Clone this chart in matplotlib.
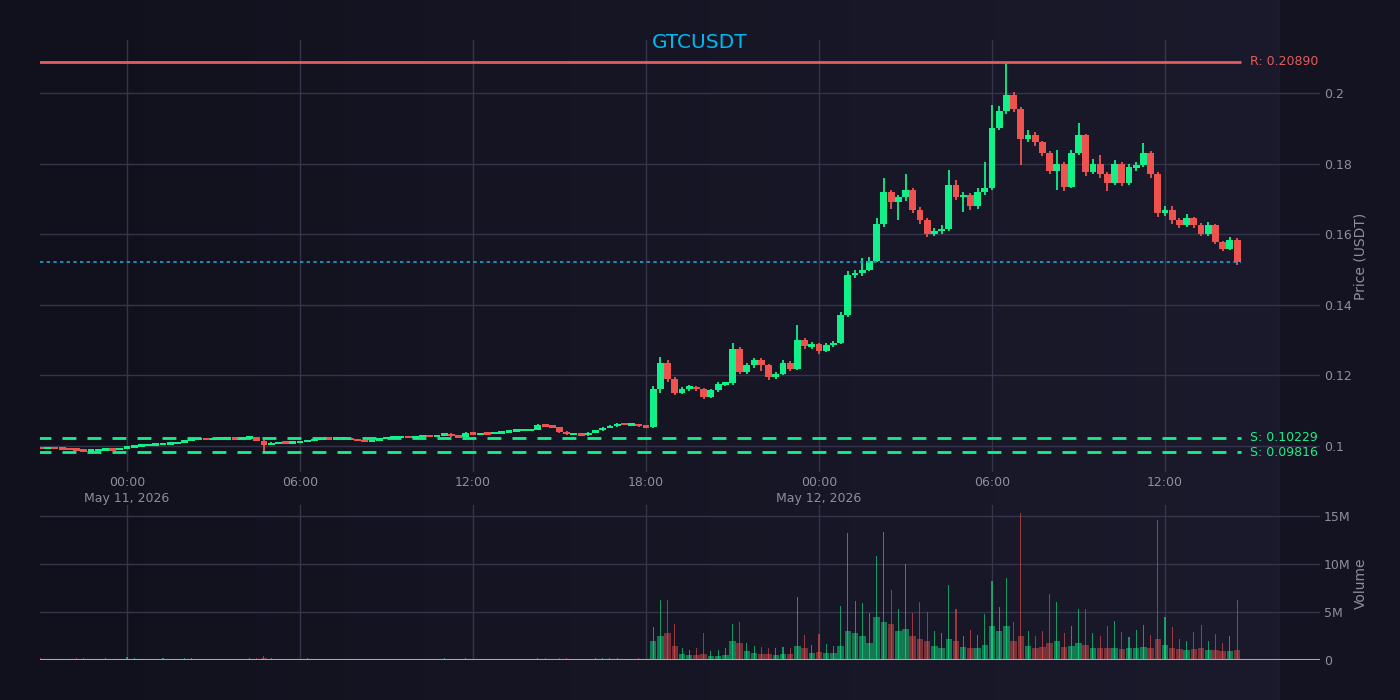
import numpy as np
import matplotlib
matplotlib.use('Agg')
from matplotlib import pyplot as plt
import matplotlib.dates as mdates
from matplotlib.colors import LinearSegmentedColormap
from datetime import datetime, timedelta

# 15-minute candles, first one at 21:00 May 10 2026
start = datetime(2026, 5, 10, 21, 0)
step_min = 15

closes = [
    0.0993, 0.0994, 0.0993, 0.0992, 0.0991, 0.0988, 0.0987, 0.0988, 0.0990, 0.0991,
    0.0990, 0.0992, 0.0998, 0.1000, 0.1002, 0.1004, 0.1005, 0.1007, 0.1008, 0.1009,
    0.1015, 0.1019, 0.1020, 0.1019, 0.1021, 0.1020, 0.1022, 0.1021, 0.1022, 0.1025,
    0.1015, 0.1004, 0.1008, 0.1010, 0.1009, 0.1011, 0.1012, 0.1016, 0.1019, 0.1021,
    0.1020, 0.1021, 0.1020, 0.1019, 0.1015, 0.1013, 0.1016, 0.1021, 0.1023, 0.1024,
    0.1026, 0.1025, 0.1027, 0.1028, 0.1027, 0.1030, 0.1035, 0.1028, 0.1026, 0.1037,
    0.1033, 0.1036, 0.1035, 0.1037, 0.1038, 0.1043, 0.1044, 0.1045, 0.1046, 0.1060,
    0.1057, 0.1054, 0.1040, 0.1033, 0.1034, 0.1031, 0.1038, 0.1044, 0.1052, 0.1056,
    0.1063, 0.1060, 0.1062, 0.1056, 0.1053, 0.1160, 0.1235, 0.1190, 0.1150, 0.1162,
    0.1168, 0.1160, 0.1140, 0.1158, 0.1175, 0.1178, 0.1275, 0.1210, 0.1230, 0.1245,
    0.1230, 0.1195, 0.1205, 0.1235, 0.1218, 0.1300, 0.1282, 0.1288, 0.1268, 0.1285,
    0.1292, 0.1370, 0.1485, 0.1490, 0.1500, 0.1525, 0.1630, 0.1720, 0.1690, 0.1705,
    0.1725, 0.1670, 0.1640, 0.1600, 0.1610, 0.1615, 0.1740, 0.1705, 0.1712, 0.1680,
    0.1720, 0.1730, 0.1900, 0.1950, 0.1995, 0.1955, 0.1870, 0.1882, 0.1860, 0.1830,
    0.1780, 0.1800, 0.1735, 0.1830, 0.1880, 0.1775, 0.1800, 0.1770, 0.1745, 0.1800,
    0.1745, 0.1790, 0.1795, 0.1830, 0.1770, 0.1660, 0.1668, 0.1640, 0.1625, 0.1645,
    0.1625, 0.1600, 0.1625, 0.1578, 0.1558, 0.1585, 0.1521,
]
highs = [
    0.0996, 0.0996, 0.0995, 0.0995, 0.0994, 0.0992, 0.0990, 0.0990, 0.0992, 0.0993,
    0.0993, 0.0994, 0.1000, 0.1002, 0.1004, 0.1006, 0.1007, 0.1009, 0.1010, 0.1011,
    0.1017, 0.1021, 0.1022, 0.1022, 0.1023, 0.1023, 0.1024, 0.1024, 0.1024, 0.1027,
    0.1026, 0.1016, 0.1010, 0.1012, 0.1012, 0.1013, 0.1014, 0.1018, 0.1021, 0.1023,
    0.1023, 0.1023, 0.1023, 0.1022, 0.1020, 0.1017, 0.1018, 0.1023, 0.1025, 0.1026,
    0.1028, 0.1028, 0.1029, 0.1030, 0.1030, 0.1032, 0.1038, 0.1036, 0.1030, 0.1040,
    0.1039, 0.1038, 0.1038, 0.1039, 0.1040, 0.1045, 0.1046, 0.1047, 0.1049, 0.1063,
    0.1062, 0.1059, 0.1055, 0.1042, 0.1036, 0.1036, 0.1040, 0.1046, 0.1054, 0.1058,
    0.1065, 0.1065, 0.1064, 0.1063, 0.1058, 0.1170, 0.1252, 0.1245, 0.1195, 0.1168,
    0.1172, 0.1170, 0.1163, 0.1162, 0.1180, 0.1182, 0.1292, 0.1280, 0.1236, 0.1250,
    0.1248, 0.1232, 0.1210, 0.1245, 0.1240, 0.1342, 0.1305, 0.1295, 0.1292, 0.1292,
    0.1298, 0.1380, 0.1495, 0.1500, 0.1532, 0.1536, 0.1645, 0.1759, 0.1725, 0.1712,
    0.1772, 0.1730, 0.1678, 0.1645, 0.1618, 0.1625, 0.1782, 0.1755, 0.1720, 0.1718,
    0.1730, 0.1806, 0.1966, 0.1962, 0.2089, 0.2002, 0.1960, 0.1895, 0.1890, 0.1865,
    0.1835, 0.1839, 0.1805, 0.1840, 0.1915, 0.1885, 0.1812, 0.1825, 0.1775, 0.1811,
    0.1805, 0.1798, 0.1805, 0.1858, 0.1835, 0.1775, 0.1680, 0.1680, 0.1645, 0.1658,
    0.1650, 0.1632, 0.1635, 0.1630, 0.1582, 0.1592, 0.1588,
]
lows = [
    0.0991, 0.0991, 0.0991, 0.0990, 0.0989, 0.0986, 0.0985, 0.0985, 0.0986, 0.0988,
    0.0988, 0.0989, 0.0991, 0.0996, 0.0998, 0.1000, 0.1002, 0.1003, 0.1005, 0.1006,
    0.1007, 0.1013, 0.1017, 0.1017, 0.1017, 0.1018, 0.1018, 0.1019, 0.1019, 0.1020,
    0.1013, 0.0983, 0.1002, 0.1006, 0.1007, 0.1007, 0.1009, 0.1010, 0.1014, 0.1017,
    0.1018, 0.1018, 0.1018, 0.1017, 0.1013, 0.1011, 0.1011, 0.1014, 0.1019, 0.1021,
    0.1022, 0.1023, 0.1023, 0.1025, 0.1025, 0.1025, 0.1028, 0.1026, 0.1023, 0.1024,
    0.1031, 0.1031, 0.1033, 0.1033, 0.1035, 0.1036, 0.1041, 0.1042, 0.1043, 0.1044,
    0.1055, 0.1051, 0.1037, 0.1030, 0.1031, 0.1029, 0.1029, 0.1036, 0.1042, 0.1050,
    0.1054, 0.1058, 0.1058, 0.1054, 0.1051, 0.1050, 0.1150, 0.1180, 0.1145, 0.1146,
    0.1156, 0.1155, 0.1132, 0.1136, 0.1154, 0.1170, 0.1174, 0.1203, 0.1205, 0.1222,
    0.1212, 0.1187, 0.1190, 0.1200, 0.1212, 0.1215, 0.1275, 0.1276, 0.1262, 0.1265,
    0.1280, 0.1290, 0.1365, 0.1475, 0.1482, 0.1495, 0.1520, 0.1620, 0.1672, 0.1640,
    0.1695, 0.1660, 0.1628, 0.1593, 0.1595, 0.1600, 0.1610, 0.1698, 0.1663, 0.1670,
    0.1672, 0.1712, 0.1725, 0.1895, 0.1940, 0.1945, 0.1796, 0.1860, 0.1850, 0.1822,
    0.1770, 0.1725, 0.1722, 0.1730, 0.1825, 0.1765, 0.1770, 0.1760, 0.1722, 0.1740,
    0.1738, 0.1740, 0.1778, 0.1790, 0.1760, 0.1650, 0.1652, 0.1630, 0.1618, 0.1620,
    0.1618, 0.1594, 0.1596, 0.1572, 0.1552, 0.1555, 0.1512,
]
first_open = 0.0994

# volume in millions: typical level in the slot and its tallest 1m spike
vol_base = [
    0.10, 0.08, 0.06, 0.05, 0.07, 0.12, 0.09, 0.06, 0.05, 0.08,
    0.06, 0.05, 0.15, 0.10, 0.07, 0.06, 0.05, 0.08, 0.06, 0.07,
    0.12, 0.09, 0.06, 0.05, 0.05, 0.04, 0.06, 0.05, 0.06, 0.09,
    0.10, 0.20, 0.08, 0.06, 0.05, 0.05, 0.06, 0.08, 0.07, 0.05,
    0.05, 0.04, 0.05, 0.04, 0.06, 0.07, 0.05, 0.06, 0.05, 0.04,
    0.05, 0.04, 0.05, 0.05, 0.04, 0.06, 0.08, 0.07, 0.05, 0.09,
    0.06, 0.05, 0.05, 0.04, 0.05, 0.07, 0.05, 0.05, 0.06, 0.12,
    0.08, 0.07, 0.10, 0.09, 0.06, 0.05, 0.07, 0.08, 0.09, 0.08,
    0.10, 0.07, 0.06, 0.08, 0.07, 2.0, 2.5, 2.8, 1.5, 0.6,
    0.5, 0.5, 0.6, 0.4, 0.4, 0.5, 2.0, 1.8, 0.9, 0.7,
    0.6, 0.6, 0.5, 0.6, 0.6, 1.5, 1.2, 0.7, 0.8, 0.7,
    0.7, 1.5, 3.0, 2.8, 2.5, 1.8, 4.5, 4.0, 3.8, 3.0,
    3.2, 2.5, 2.2, 2.0, 1.5, 1.3, 2.2, 2.0, 1.4, 1.3,
    1.3, 1.6, 3.5, 3.0, 3.5, 2.0, 2.5, 1.5, 1.3, 1.4,
    1.8, 2.0, 1.4, 1.5, 1.8, 1.6, 1.3, 1.2, 1.3, 1.3,
    1.1, 1.2, 1.3, 1.4, 1.3, 2.2, 1.6, 1.2, 1.1, 1.0,
    1.1, 1.2, 1.0, 1.0, 0.9, 0.9, 1.0,
]
vol_peak = [
    0.22, 0.15, 0.12, 0.10, 0.14, 0.25, 0.18, 0.12, 0.10, 0.16,
    0.12, 0.10, 0.30, 0.20, 0.14, 0.12, 0.10, 0.16, 0.12, 0.14,
    0.24, 0.18, 0.12, 0.10, 0.10, 0.08, 0.12, 0.10, 0.12, 0.18,
    0.20, 0.40, 0.16, 0.12, 0.10, 0.10, 0.12, 0.16, 0.14, 0.10,
    0.10, 0.08, 0.10, 0.08, 0.12, 0.14, 0.10, 0.12, 0.10, 0.08,
    0.10, 0.08, 0.10, 0.10, 0.08, 0.12, 0.16, 0.14, 0.10, 0.18,
    0.12, 0.10, 0.10, 0.08, 0.10, 0.14, 0.10, 0.10, 0.12, 0.24,
    0.16, 0.14, 0.20, 0.18, 0.12, 0.10, 0.14, 0.16, 0.18, 0.16,
    0.20, 0.14, 0.12, 0.16, 0.14, 3.4, 6.2, 6.2, 3.8, 1.2,
    1.0, 1.3, 2.8, 0.9, 1.0, 1.2, 3.8, 4.0, 1.8, 1.5,
    1.4, 1.2, 1.3, 1.4, 1.2, 6.6, 2.6, 1.6, 2.7, 1.7,
    1.5, 5.6, 13.2, 6.1, 5.9, 4.9, 10.8, 13.3, 7.3, 5.3,
    10.0, 4.9, 6.0, 5.0, 3.0, 2.8, 7.8, 5.3, 2.5, 3.1,
    2.6, 4.8, 8.2, 5.5, 8.5, 4.0, 15.3, 3.0, 2.5, 3.0,
    6.9, 6.0, 2.8, 3.5, 5.3, 5.3, 2.8, 2.5, 3.5, 4.1,
    2.9, 2.4, 3.1, 3.6, 2.6, 14.6, 4.5, 3.4, 2.2, 2.0,
    2.9, 3.6, 2.0, 2.7, 1.8, 2.5, 6.3,
]

resistance = 0.20890
supports = [0.10229, 0.09816]

price_ticks = [0.10, 0.12, 0.14, 0.16, 0.18, 0.20]
price_labels = ['0.1', '0.12', '0.14', '0.16', '0.18', '0.2']
vol_ticks = [0, 5e6, 10e6, 15e6]
vol_labels = ['0', '5M', '10M', '15M']
time_ticks = [datetime(2026, 5, 11, 0), datetime(2026, 5, 11, 6), datetime(2026, 5, 11, 12),
              datetime(2026, 5, 11, 18), datetime(2026, 5, 12, 0), datetime(2026, 5, 12, 6),
              datetime(2026, 5, 12, 12)]
time_labels = ['00:00\nMay 11, 2026', '06:00', '12:00', '18:00',
               '00:00\nMay 12, 2026', '06:00', '12:00']

n = len(closes)
assert len(highs) == n and len(lows) == n and len(vol_base) == n and len(vol_peak) == n

opens = [first_open] + closes[:-1]
times = [start + timedelta(minutes=step_min * i) for i in range(n)]
t = mdates.date2num(times)
o = np.array(opens); c = np.array(closes)
h = np.array(highs); l = np.array(lows)
vb = np.array(vol_base) * 1e6
vp = np.array(vol_peak) * 1e6

UP = '#12f08a'
DOWN = '#ef5350'
GRID = '#34344a'
TXT = '#8e8e9c'
W, H = 1400, 700

plt.rcParams['font.family'] = ['DejaVu Sans']
fig = plt.figure(figsize=(14, 7), dpi=100)
fig.patch.set_facecolor('#131321')

# soft background gradient, lighter towards the right, ends at x=1280
bg = fig.add_axes([0, 0, 1280 / W, 1], zorder=-10)
cmap = LinearSegmentedColormap.from_list('bg', ['#11111d', '#1a1a2c'])
bg.imshow(np.linspace(0, 1, 256)[None, :], aspect='auto', cmap=cmap, extent=[0, 1, 0, 1])
bg.axis('off')

def px_axes(x0, y0, x1, y1):
    return fig.add_axes([x0 / W, 1 - y1 / H, (x1 - x0) / W, (y1 - y0) / H])

ax = px_axes(40, 40, 1320, 472)
axv = px_axes(40, 505, 1320, 660)

t_left = mdates.date2num(datetime(2026, 5, 10, 20, 59))
t_right = mdates.date2num(datetime(2026, 5, 12, 17, 22, 30))

for a in (ax, axv):
    a.set_facecolor('none')
    for s in a.spines.values():
        s.set_visible(False)
    a.set_xlim(t_left, t_right)
    a.set_xticks(mdates.date2num(time_ticks))
    a.grid(True, color=GRID, linewidth=1)
    a.set_axisbelow(True)
    a.yaxis.tick_right()
    a.tick_params(axis='both', length=0, colors=TXT, labelsize=9)

# candles: thin tall wicks, bodies that fill the slot so the series reads as a line
width = step_min / 1440 * 0.95
up = c >= o
col = np.where(up, UP, DOWN)
ax.vlines(t, l, h, colors=col, linewidth=1.3, zorder=3)
mid = (o + c) / 2
body_h = np.maximum(np.abs(c - o), 0.0007)
ax.bar(t, body_h, bottom=mid - body_h / 2, width=width, color=col, linewidth=0, zorder=4)

# levels
t0, t1 = t[0] - step_min / 2880, t[-1] + step_min / 2880
ax.hlines(resistance, t0, t1, colors='#e45c5c', linewidth=2, zorder=5)
for s in supports:
    ax.hlines(s, t0, t1, colors='#19f08a', linewidth=2, linestyles=(0, (5, 4)), zorder=5)
ax.hlines(closes[-1], t[0], t1, colors='#1ba3d4', linewidth=1.2, linestyles=(0, (2, 2)), zorder=5)

lx = (1250 - 40) / 1280
ax.text(lx, resistance, 'R: %.5f' % resistance, transform=ax.get_yaxis_transform(),
        color='#e45c5c', fontsize=9, va='center', ha='left')
for s in supports:
    ax.text(lx, s, 'S: %.5f' % s, transform=ax.get_yaxis_transform(),
            color='#19f08a', fontsize=9, va='center', ha='left')

ax.set_ylim(0.09262, 0.21504)
ax.set_yticks(price_ticks)
ax.set_yticklabels(price_labels)
ax.set_xticklabels(time_labels, linespacing=1.3)
ax.tick_params(axis='x', pad=3)
ax.tick_params(axis='y', pad=3)

# volume
vcol = np.where(up, UP, DOWN)
axv.bar(t, vb, width=step_min / 1440 * 0.9, color=vcol, alpha=0.45, linewidth=0, zorder=3)
axv.bar(t, vp, width=step_min / 1440 * 0.15, color=vcol, alpha=0.6, linewidth=0, zorder=3)
axv.axhline(0, color='#a8a8ae', linewidth=1.5, zorder=4)
axv.set_ylim(0, 16.15e6)
axv.set_yticks(vol_ticks)
axv.set_yticklabels(vol_labels)
axv.set_xticklabels([])
axv.tick_params(axis='y', pad=3)

fig.text(700 / W, 1 - 42 / H, 'GTCUSDT', color='#00b8f0', fontsize=14.5, ha='center', va='center')
fig.text(1361 / W, 1 - 256 / H, 'Price (USDT)', color=TXT, fontsize=10, rotation=90,
         ha='center', va='center')
fig.text(1361 / W, 1 - 583 / H, 'Volume', color=TXT, fontsize=10, rotation=90,
         ha='center', va='center')

fig.savefig('out.png', dpi=100, facecolor=fig.get_facecolor())
